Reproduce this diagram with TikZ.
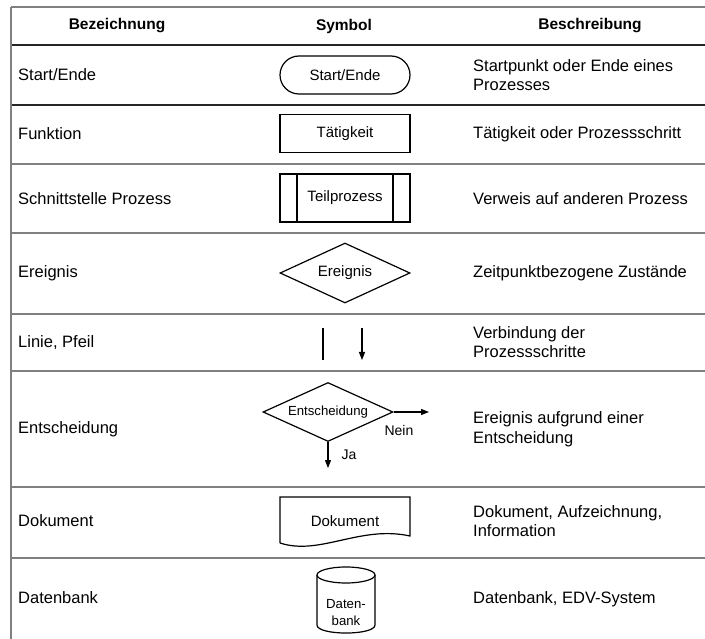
\documentclass[tikz,border=0pt]{standalone}
\usepackage{fontspec}
\setmainfont{Liberation Sans}
\usetikzlibrary{shapes.geometric,arrows.meta}

\definecolor{gridgray}{gray}{0.5}

\begin{document}
\begin{tikzpicture}[x=1pt,y=-1pt,
  >={Triangle[length=8pt,width=6pt]},
  tableline/.style={draw=gridgray,line width=1.5pt},
  headline/.style={draw=black!85,line width=1.5pt},
  rowlabel/.style={anchor=west,align=left,inner sep=0pt,
    font=\fontsize{16.5}{19.5}\selectfont},
  colhead/.style={inner sep=0pt,font=\bfseries\fontsize{15.5}{18}\selectfont},
  symtext/.style={inner sep=0pt,font=\fontsize{15}{17}\selectfont},
  smalltext/.style={inner sep=0pt,align=center,font=\fontsize{13.2}{17}\selectfont},
  edgetext/.style={inner sep=0pt,font=\fontsize{14}{17}\selectfont},
  symline/.style={draw,line width=1.2pt},
  symbox/.style={symline,symtext,minimum width=130pt},
  rhombus/.style={symline,diamond,aspect=2.2,inner sep=0pt,minimum width=130pt}]
  \useasboundingbox (0,0) rectangle (705,639);

  % table
  \draw [tableline] (11,7) -- (705,7);
  \draw [headline]  (11,45) -- (705,45);
  \draw [headline]  (11,105) -- (705,105);
  \draw [tableline] (11,164) -- (705,164);
  \draw [tableline] (11,233) -- (705,233);
  \draw [tableline] (11,314) -- (705,314);
  \draw [tableline] (11,371) -- (705,371);
  \draw [tableline] (11,487) -- (705,487);
  \draw [tableline] (11,558) -- (705,558);
  \draw [tableline] (11,7) -- (11,639);

  \node [colhead] (hname) at (117,26) {Bezeichnung};
  \node [colhead] (hsym)  at (344,26) {Symbol};
  \node [colhead] (hdesc) at (590,26) {Beschreibung};

  % left column
  \node [rowlabel] (nstart) at (18,75)  {Start/Ende};
  \node [rowlabel] (nfunc)  at (18,134) {Funktion};
  \node [rowlabel] (nsub)   at (18,199) {Schnittstelle Prozess};
  \node [rowlabel] (nevent) at (18,273) {Ereignis};
  \node [rowlabel] (nline)  at (18,343) {Linie, Pfeil};
  \node [rowlabel] (ndec)   at (18,429) {Entscheidung};
  \node [rowlabel] (ndoc)   at (18,521) {Dokument};
  \node [rowlabel] (ndb)    at (18,598) {Datenbank};

  % symbols
  \node [symbox, rounded corners=19pt, minimum height=38pt] (start) at (345,75) {Start/Ende};
  \node [symbox, minimum height=38pt] (task) at (345,133.5) {Tätigkeit};
  \node [symbox, minimum height=48pt] (sub) at (345,198) {Teilprozess};
  \draw [symline] ([xshift=-48pt]sub.north) -- ([xshift=-48pt]sub.south);
  \draw [symline] ([xshift=48pt]sub.north) -- ([xshift=48pt]sub.south);
  \node [rhombus, symtext, minimum height=60pt] (event) at (345,273) {Ereignis};

  \coordinate (ltop) at (323,328);
  \coordinate (lbot) at (323,360);
  \coordinate (atop) at (362,328);
  \coordinate (abot) at (362,360);
  \draw [symline] (ltop) -- (lbot);
  \draw [symline,->] (atop) -- (abot);

  \node [rhombus, smalltext, minimum height=59pt] (dec) at (328,412) {Entscheidung};
  \coordinate (no)  at (429,412);
  \coordinate (yes) at (328,468);
  \path [->, line width=1.2pt]
  (dec.east)  edge node [pos=0.15, below=13pt, edgetext] {Nein} (no)
  (dec.south) edge node [pos=0.5, right=13pt, edgetext] {Ja} (yes);

  \node [symtext] (doc) at (345,521) {Dokument};
  \draw [symline] (280,543) -- (280,497) -- (410,497) -- (410,536)
    .. controls (360,525) and (320,556) .. (280,543);

  \node [smalltext] (db) at (346,612.5) {Daten-\\bank};
  \draw [symline] (346,575) ellipse [x radius=29, y radius=8];
  \draw [symline] (317,575) -- (317,625) .. controls (317,635.7) and (375,635.7) .. (375,625) -- (375,575);

  % right column
  \node [rowlabel] (dstart) at (473,75)  {Startpunkt oder Ende eines\\Prozesses};
  \node [rowlabel] (dfunc)  at (473,134) {Tätigkeit oder Prozessschritt};
  \node [rowlabel] (dsub)   at (473,199) {Verweis auf anderen Prozess};
  \node [rowlabel] (devent) at (473,273) {Zeitpunktbezogene Zustände};
  \node [rowlabel] (dline)  at (473,342) {Verbindung der\\Prozessschritte};
  \node [rowlabel] (ddec)   at (473,429) {Ereignis aufgrund einer\\Entscheidung};
  \node [rowlabel] (ddoc)   at (473,521) {Dokument, Aufzeichnung,\\Information};
  \node [rowlabel] (ddb)    at (473,599) {Datenbank, EDV-System};
\end{tikzpicture}
\end{document}
